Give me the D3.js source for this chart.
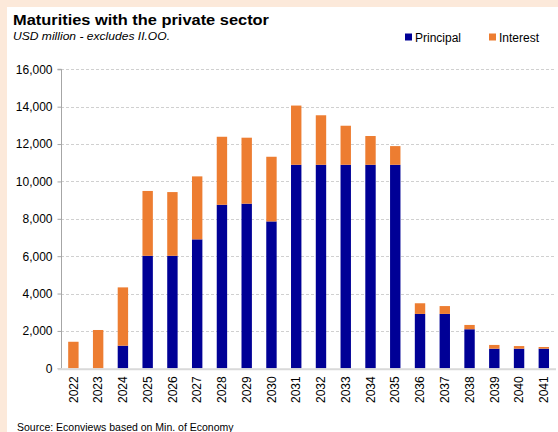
<!DOCTYPE html>
<html>
<head>
<meta charset="utf-8">
<script src="https://cdn.jsdelivr.net/npm/d3@7"></script>
<style>
  html, body { margin: 0; padding: 0; background: #fce9da; }
  svg { display: block; }
</style>
</head>
<body>
<svg id="chart" width="558" height="432"></svg>
<script>
// Annual maturities with the private sector, USD million
const years = ["2022","2023","2024","2025","2026","2027","2028","2029","2030","2031",
               "2032","2033","2034","2035","2036","2037","2038","2039","2040","2041"];
const principal = [0, 0, 1210, 6020, 6020, 6900, 8750, 8810, 7860, 10890,
                   10890, 10890, 10890, 10890, 2910, 2910, 2090, 1050, 1050, 1050];
const interest = [1420, 2050, 3120, 3470, 3410, 3370, 3640, 3530, 3460, 3170,
                  2650, 2090, 1540, 1000, 570, 420, 230, 200, 140, 90];
const yTicks = [0, 2000, 4000, 6000, 8000, 10000, 12000, 14000, 16000];
const seriesNames = ["Principal", "Interest"];
const seriesColors = ["#000096", "#ed7d31"];

const svg = d3.select("#chart");
const W = 558, H = 432;

// white panel on the peach page background
svg.append("rect").attr("x", 7).attr("y", 7).attr("width", W - 7).attr("height", H - 7)
  .attr("fill", "#ffffff");

const font = "'Liberation Sans', Arial, sans-serif";

// title and subtitle
svg.append("text").attr("x", 13).attr("y", 25)
  .attr("font-family", font).attr("font-weight", "bold").attr("font-size", 15.5)
  .attr("fill", "#000").attr("textLength", 256).attr("lengthAdjust", "spacingAndGlyphs")
  .text("Maturities with the private sector");
svg.append("text").attr("x", 13).attr("y", 40)
  .attr("font-family", font).attr("font-style", "italic").attr("font-size", 11.5)
  .attr("fill", "#000").attr("textLength", 157).attr("lengthAdjust", "spacingAndGlyphs")
  .text("USD million - excludes II.OO.");

const margin = { left: 61, right: 2, top: 69.3, bottom: 368.3 };
const x = d3.scaleBand().domain(years).range([61, 556.2]).paddingInner(0.58).paddingOuter(0.29);
const y = d3.scaleLinear().domain([0, 16000]).range([368.3, 69.3]);

// gridlines
svg.append("g").selectAll("line").data(yTicks.filter(d => d > 0)).join("line")
  .attr("x1", 61).attr("x2", 556)
  .attr("y1", d => Math.round(y(d)) + 0.5).attr("y2", d => Math.round(y(d)) + 0.5)
  .attr("stroke", "#d0d0d0").attr("stroke-width", 1).attr("stroke-dasharray", "3,2");

// y axis
const yAxis = d3.axisLeft(y).tickValues(yTicks).tickSize(4).tickPadding(5)
  .tickFormat(d3.format(","));
const gy = svg.append("g").attr("transform", "translate(61.5,0)").call(yAxis);
gy.select(".domain").attr("stroke", "#a6a6a6").attr("d", `M-4,${y(16000)}H0V${y(0)}`);
gy.selectAll(".tick line").attr("stroke", "#a6a6a6");
gy.selectAll(".tick text").attr("font-family", font).attr("font-size", 12).attr("fill", "#000");

// stacked bars
const rows = years.map((yr, i) => ({ year: yr, Principal: principal[i], Interest: interest[i] }));
const stack = d3.stack().keys(seriesNames)(rows);
svg.append("g").selectAll("g").data(stack).join("g")
  .attr("fill", (d, i) => seriesColors[i])
  .selectAll("rect").data(d => d).join("rect")
  .attr("x", d => x(d.data.year))
  .attr("width", x.bandwidth())
  .attr("y", d => y(d[1]))
  .attr("height", d => Math.max(0, y(d[0]) - y(d[1])));

// x axis
const xAxis = d3.axisBottom(x).tickSize(0).tickPadding(0);
const gx = svg.append("g").attr("transform", `translate(0,${y(0)})`).call(xAxis);
gx.select(".domain").attr("stroke", "#d9d9d9").attr("stroke-width", 2).attr("d", `M58,1H556`);
gx.selectAll(".tick text")
  .attr("font-family", font).attr("font-size", 12).attr("fill", "#000")
  .attr("transform", "rotate(-90)")
  .attr("text-anchor", "end").attr("dy", "0.35em")
  .attr("x", -8).attr("y", 0);

// legend
const legend = svg.append("g");
const legendX = [405, 489];
seriesNames.forEach((name, i) => {
  legend.append("rect").attr("x", legendX[i]).attr("y", 33.5).attr("width", 7).attr("height", 7)
    .attr("fill", seriesColors[i]);
  legend.append("text").attr("x", legendX[i] + 10).attr("y", 41.5)
    .attr("font-family", font).attr("font-size", 12).attr("fill", "#000").text(name);
});

// source note
svg.append("text").attr("x", 17).attr("y", 431)
  .attr("font-family", font).attr("font-size", 10.5).attr("fill", "#000")
  .text("Source: Econviews based on Min. of Economy");
</script>
</body>
</html>
